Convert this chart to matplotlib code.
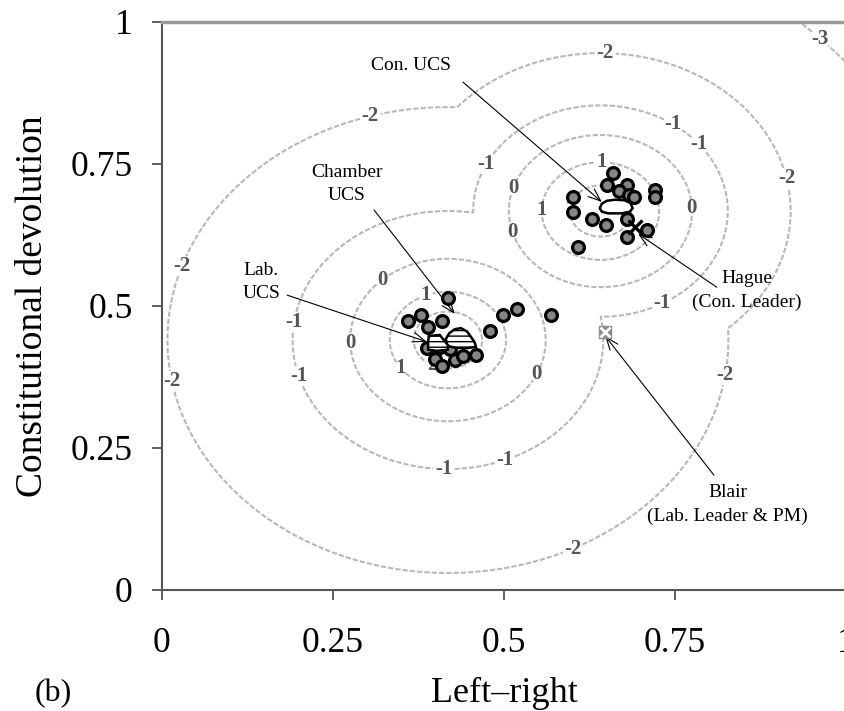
import numpy as np
import matplotlib.pyplot as plt
from matplotlib.patches import Polygon

plt.rcParams['font.family'] = ['Liberation Serif', 'DejaVu Serif']

# MP ideal points (left-right, constitutional devolution)
lab_x = [0.418, 0.360, 0.379, 0.389, 0.409, 0.499, 0.519, 0.569, 0.480,
         0.387, 0.406, 0.421, 0.399, 0.428, 0.440, 0.459, 0.409]
lab_y = [0.514, 0.474, 0.484, 0.463, 0.474, 0.484, 0.495, 0.484, 0.456,
         0.426, 0.428, 0.424, 0.407, 0.405, 0.412, 0.414, 0.394]
con_x = [0.659, 0.651, 0.680, 0.668, 0.683, 0.690, 0.721, 0.721, 0.601,
         0.601, 0.629, 0.649, 0.680, 0.709, 0.680, 0.608]
con_y = [0.734, 0.713, 0.713, 0.702, 0.695, 0.692, 0.704, 0.692, 0.692,
         0.665, 0.653, 0.643, 0.653, 0.634, 0.621, 0.604]

hague = (0.692, 0.639)
blair = (0.648, 0.454)

# uncovered sets (outlines)
con_ucs_x = [0.640, 0.643, 0.650, 0.662, 0.676, 0.685, 0.688, 0.684, 0.672, 0.652, 0.643]
con_ucs_y = [0.672, 0.680, 0.685, 0.687, 0.686, 0.681, 0.672, 0.666, 0.663, 0.663, 0.666]
chamber_ucs_x = [0.417, 0.415, 0.420, 0.428, 0.437, 0.446, 0.452, 0.457, 0.459, 0.448, 0.430]
chamber_ucs_y = [0.430, 0.442, 0.452, 0.459, 0.461, 0.455, 0.445, 0.436, 0.428, 0.426, 0.426]
lab_ucs_x = [0.389, 0.390, 0.406, 0.412, 0.418, 0.418, 0.402, 0.389]
lab_ucs_y = [0.435, 0.447, 0.449, 0.440, 0.431, 0.423, 0.421, 0.423]

# contour surface: radius of each level around the two party centres
lab_centre = (0.418, 0.44)
con_centre = (0.641, 0.667)
levels = [3, 2, 1, 0, -1, -2, -3, -4]
lab_radius = [0.03, 0.05, 0.085, 0.143, 0.227, 0.41, 0.76, 1.3]
con_radius = [0.02, 0.045, 0.086, 0.134, 0.186, 0.278, 0.43, 0.66]
shown_levels = [-3, -2, -1, 0, 1, 2]

xticks = [0, 0.25, 0.5, 0.75, 1]
xtick_labels = ['0', '0.25', '0.5', '0.75', '1']
yticks = [0, 0.25, 0.5, 0.75, 1]
ytick_labels = ['0', '0.25', '0.5', '0.75', '1']

label_spots = [(0.952, 0.956), (0.648, 0.945), (0.303, 0.842), (0.914, 0.725),
               (0.035, 0.567), (0.026, 0.370), (0.823, 0.379), (0.596, 0.085),
               (0.753, 0.831), (0.792, 0.792), (0.463, 0.757), (0.734, 0.498),
               (0.189, 0.472), (0.194, 0.373), (0.412, 0.206), (0.504, 0.218),
               (0.507, 0.710), (0.507, 0.629), (0.775, 0.673), (0.325, 0.540),
               (0.278, 0.435), (0.556, 0.375), (0.642, 0.761), (0.561, 0.669),
               (0.389, 0.507), (0.351, 0.393), (0.608, 0.669), (0.395, 0.393)]


def surface(r, radius):
    return np.interp(np.log(r), np.log(radius), levels)


gx, gy = np.meshgrid(np.linspace(0, 1, 500), np.linspace(0, 1, 500))
r_lab = np.hypot(gx - lab_centre[0], gy - lab_centre[1]) + 1e-6
r_con = np.hypot(gx - con_centre[0], gy - con_centre[1]) + 1e-6
z = np.maximum(surface(r_lab, lab_radius), surface(r_con, con_radius))

fig = plt.figure(figsize=(8.45, 7.11), dpi=100)
ax = fig.add_axes([0.1917, 0.1702, 0.8095, 0.799])

cs = ax.contour(gx, gy, z, levels=shown_levels, colors='#b8b8b8',
                linewidths=1.5, linestyles=[(0, (2.5, 1))])
with plt.rc_context({'font.family': 'Liberation Serif', 'font.weight': 'bold'}):
    clabels = ax.clabel(cs, shown_levels, manual=label_spots, inline=True,
                        inline_spacing=2, fontsize=15, fmt='%d', colors='#555555')
for t in clabels:
    t.set_rotation(0)

# annotations
arrow = dict(arrowstyle='->,head_length=0.9,head_width=0.35', lw=0.8,
             color='black', shrinkA=0, shrinkB=0)
tsize = 14
ax.text(0.364, 0.924, 'Con. UCS', fontsize=tsize, ha='center', va='center')
ax.annotate('', xy=(0.643, 0.683), xytext=(0.44, 0.894), arrowprops=arrow)
ax.text(0.270, 0.715, 'Chamber\nUCS', fontsize=tsize, ha='center', va='center',
        linespacing=1.5)
ax.annotate('', xy=(0.428, 0.486), xytext=(0.310, 0.669), arrowprops=arrow)
ax.text(0.145, 0.542, 'Lab.\nUCS', fontsize=tsize, ha='center', va='center',
        linespacing=1.5)
ax.annotate('', xy=(0.387, 0.437), xytext=(0.183, 0.519), arrowprops=arrow)
ax.text(0.855, 0.528, 'Hague\n(Con. Leader)', fontsize=tsize, ha='center',
        va='center', linespacing=1.5)
ax.annotate('', xy=(0.696, 0.627), xytext=(0.811, 0.533), arrowprops=arrow)
ax.text(0.827, 0.150, 'Blair\n(Lab. Leader & PM)', fontsize=tsize, ha='center',
        va='center', linespacing=1.5)
ax.annotate('', xy=(0.648, 0.447), xytext=(0.807, 0.202), arrowprops=arrow)

# uncovered sets
ax.add_patch(Polygon(np.column_stack([con_ucs_x, con_ucs_y]), closed=True,
                     fc='white', ec='black', lw=1.8, zorder=5))
ax.add_patch(Polygon(np.column_stack([chamber_ucs_x, chamber_ucs_y]), closed=True,
                     fc='white', ec='black', lw=1.8, hatch='---', zorder=5))

# MPs
ax.plot(con_x, con_y, 'o', ms=8.5, mfc='#858585', mec='black', mew=2.3,
        ls='none', zorder=4)
ax.plot(lab_x, lab_y, 'o', ms=8.5, mfc='#858585', mec='black', mew=2.3,
        ls='none', zorder=4)
ax.add_patch(Polygon(np.column_stack([lab_ucs_x, lab_ucs_y]), closed=True,
                     fc='white', ec='black', lw=1.8, hatch='---', zorder=6))

# leaders
ax.plot(*hague, marker='x', ms=10, mew=2.4, color='black', zorder=7)
ax.plot(*blair, marker='s', ms=9, mfc='#8c8c8c', mec='#8c8c8c', zorder=7)
ax.plot(*blair, marker='x', ms=7, mew=2, color='white', zorder=8)

ax.set_xlim(0, 1)
ax.set_ylim(0, 1)
ax.set_xticks(xticks)
ax.set_xticklabels(xtick_labels)
ax.set_yticks(yticks)
ax.set_yticklabels(ytick_labels)
ax.tick_params(direction='out', length=7, width=1.2, color='#444444',
               labelsize=25.5, pad=14)
ax.tick_params(axis='x', pad=20)
for side in ['left', 'bottom']:
    ax.spines[side].set_color('#555555')
    ax.spines[side].set_linewidth(1.5)
ax.spines['top'].set_color('#999999')
ax.spines['top'].set_linewidth(2.5)
ax.spines['right'].set_visible(False)

ax.set_xlabel('Left\u2013right', fontsize=26, labelpad=12)
ax.set_ylabel('Constitutional devolution', fontsize=27, labelpad=15)
fig.text(0.0627, 0.025, '(b)', fontsize=23, ha='center', va='center')

fig.savefig('out.png', dpi=100)
